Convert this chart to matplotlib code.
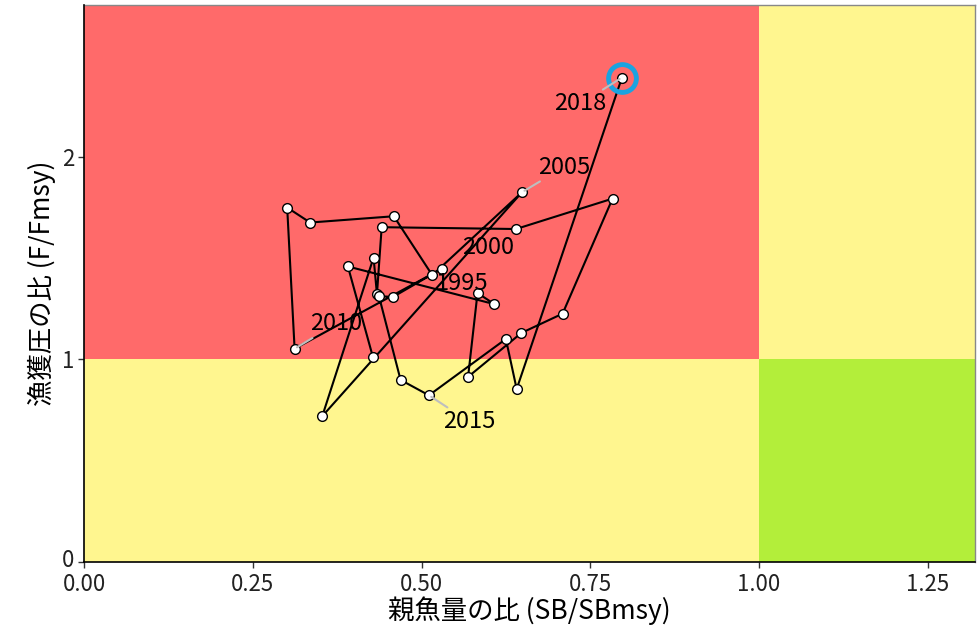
import numpy as np
import matplotlib
matplotlib.use("Agg")
import matplotlib.pyplot as plt
from matplotlib.transforms import ScaledTranslation

plt.rcParams['font.family'] = ['Noto Sans CJK JP', 'DejaVu Sans']

# data (1992-2018)
years = list(range(1992, 2019))
sb_ratio = [0.428, 0.391, 0.608, 0.583, 0.569, 0.648, 0.709, 0.783, 0.640, 0.441,
            0.434, 0.429, 0.353, 0.649, 0.516, 0.459, 0.335, 0.301, 0.312, 0.530,
            0.458, 0.437, 0.469, 0.511, 0.625, 0.641, 0.797]
f_ratio = [1.012, 1.459, 1.273, 1.328, 0.914, 1.131, 1.226, 1.794, 1.644, 1.653,
           1.322, 1.503, 0.720, 1.826, 1.416, 1.707, 1.676, 1.750, 1.053, 1.448,
           1.309, 1.312, 0.899, 0.823, 1.101, 0.854, 2.392]
label_years = [1995, 2000, 2005, 2010, 2015, 2018]

x_max = 1.32
y_max = 2.75

# label offsets in points, and whether a leader segment is drawn
label_style = {
    1995: ((-11, 7), False),
    2000: ((-20, -13), False),
    2005: ((30, 18), True),
    2010: ((30, 18), True),
    2015: ((29, -19), True),
    2018: ((-30, -19), True),
}

fig = plt.figure(figsize=(9.8, 6.34), dpi=100)
ax = fig.add_axes([84 / 980, 72 / 634, 891 / 980, 557 / 634])

# kobe zones
ax.fill_between([0, 1], 1, y_max, color='#FF6A6A', lw=0, zorder=0)
ax.fill_between([0, 1], 0, 1, color='#FFF68F', lw=0, zorder=0)
ax.fill_between([1, x_max], 1, y_max, color='#FFF68F', lw=0, zorder=0)
ax.fill_between([1, x_max], 0, 1, color='#B3EE3A', lw=0, zorder=0)

ax.plot(sb_ratio, f_ratio, color='black', lw=1.5, zorder=2)
ax.plot(sb_ratio, f_ratio, 'o', ms=7, mfc='white', mec='black', mew=1.0, zorder=3)

# highlight latest year
ax.plot(sb_ratio[-1], f_ratio[-1], 'o', ms=20, mfc='none', mec='#1BA3E0', mew=3.5, zorder=4)

for yr in label_years:
    i = years.index(yr)
    off, seg = label_style[yr]
    arrow = dict(arrowstyle='-', color='#BEBEBE', lw=1.5, shrinkA=0, shrinkB=2) if seg else None
    ax.annotate(str(yr), xy=(sb_ratio[i], f_ratio[i]), xytext=off,
                textcoords='offset points', ha='center', va='center',
                fontsize=17, color='black', arrowprops=arrow, zorder=5)

ax.set_xlim(0, x_max)
ax.set_ylim(0, y_max)
ax.set_xticks([0, 0.25, 0.5, 0.75, 1.0, 1.25])
ax.set_xticklabels(['0.00', '0.25', '0.50', '0.75', '1.00', '1.25'])
ax.set_yticks([0, 1, 2])
ax.tick_params(labelsize=16, colors='#333333', length=4, width=1)
ax.tick_params(axis='x', pad=4)
ax.tick_params(axis='y', pad=3)
ax.tick_params(labelcolor='#222222')

# nudge the y "0" up a little so it doesn't sit on "0.00"
lab0 = ax.get_yticklabels()[0]
lab0.set_transform(lab0.get_transform() + ScaledTranslation(0, 3 / 72, fig.dpi_scale_trans))

ax.set_xlabel('親魚量の比 (SB/SBmsy)', fontsize=19, labelpad=0)
ax.set_ylabel('漁獲圧の比 (F/Fmsy)', fontsize=19, labelpad=4)

for side in ['top', 'right']:
    ax.spines[side].set_color('#888888')
    ax.spines[side].set_linewidth(1)
for side in ['left', 'bottom']:
    ax.spines[side].set_color('black')
    ax.spines[side].set_linewidth(1.2)
ax.spines['left'].set_zorder(6)
ax.spines['bottom'].set_zorder(6)

fig.savefig('out.png', dpi=100)
